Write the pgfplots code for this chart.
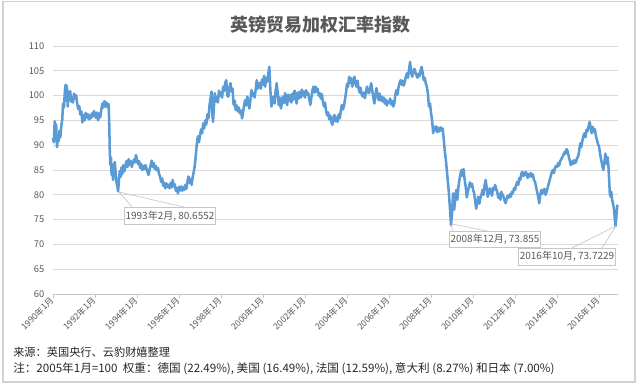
\documentclass[border=0pt]{standalone}
\usepackage{pgfplots}
\pgfplotsset{compat=1.18}
\usepackage{pgfplotstable}
\usepackage{fontspec}
\setmainfont{Noto Sans CJK SC}
\definecolor{linec}{RGB}{91,155,213}
\definecolor{gridc}{RGB}{217,217,217}
\definecolor{txtc}{RGB}{89,89,89}
\definecolor{framec}{RGB}{210,210,210}
\pgfplotstableread{
x y
1990.00 91.5
1990.04 90.6
1990.08 94.8
1990.11 92.0
1990.15 94.2
1990.19 89.6
1990.23 91.5
1990.27 90.8
1990.31 92.9
1990.35 91.6
1990.40 94.0
1990.44 95.2
1990.48 98.4
1990.52 97.6
1990.56 100.5
1990.60 102.2
1990.63 99.0
1990.66 102.0
1990.70 97.8
1990.74 100.8
1990.78 99.2
1990.82 100.9
1990.86 98.8
1990.90 99.6
1990.95 98.6
1991.00 100.4
1991.05 99.4
1991.10 100.1
1991.15 98.5
1991.20 97.3
1991.25 97.9
1991.30 96.2
1991.35 96.8
1991.40 94.6
1991.45 96.0
1991.50 95.0
1991.55 96.5
1991.60 95.6
1991.65 96.3
1991.70 95.2
1991.75 96.0
1991.80 95.4
1991.85 96.4
1991.90 95.8
1991.95 96.9
1992.00 96.0
1992.05 95.5
1992.10 96.6
1992.15 95.0
1992.20 96.4
1992.25 95.6
1992.30 97.2
1992.35 98.4
1992.40 97.6
1992.45 98.9
1992.50 97.8
1992.55 98.6
1992.60 97.6
1992.65 98.3
1992.68 94.0
1992.70 89.5
1992.73 86.0
1992.76 87.5
1992.79 84.0
1992.82 86.2
1992.86 83.0
1992.90 85.5
1992.94 86.6
1992.98 84.5
1993.02 82.6
1993.06 81.8
1993.10 80.7
1993.14 83.0
1993.18 84.8
1993.22 83.6
1993.26 85.5
1993.30 84.2
1993.35 86.0
1993.40 84.7
1993.45 85.8
1993.50 86.8
1993.55 85.6
1993.60 87.2
1993.65 86.1
1993.70 86.8
1993.75 85.6
1993.80 86.4
1993.85 87.1
1993.90 86.5
1993.95 88.0
1994.00 87.0
1994.05 86.2
1994.10 86.8
1994.15 85.4
1994.20 86.2
1994.25 85.0
1994.30 85.8
1994.35 85.2
1994.40 86.0
1994.45 85.3
1994.50 84.6
1994.55 84.0
1994.60 85.1
1994.65 86.0
1994.70 86.9
1994.75 85.6
1994.80 86.4
1994.85 85.2
1994.90 85.8
1994.95 84.9
1995.00 85.4
1995.05 84.2
1995.10 83.6
1995.15 82.6
1995.20 83.3
1995.25 81.8
1995.30 82.4
1995.35 81.3
1995.40 82.3
1995.45 81.6
1995.50 82.0
1995.55 81.3
1995.60 82.4
1995.65 81.5
1995.70 83.0
1995.75 81.7
1995.80 82.1
1995.85 80.8
1995.90 81.4
1995.95 80.3
1996.00 81.6
1996.05 80.9
1996.10 81.7
1996.15 80.8
1996.20 81.5
1996.25 81.0
1996.30 82.0
1996.35 81.2
1996.40 82.6
1996.45 83.7
1996.50 82.4
1996.55 83.2
1996.60 82.0
1996.65 83.5
1996.70 84.6
1996.75 85.8
1996.80 88.0
1996.85 90.4
1996.90 91.8
1996.95 90.6
1997.00 92.0
1997.05 93.2
1997.10 92.4
1997.15 94.4
1997.20 93.4
1997.25 95.0
1997.30 94.2
1997.35 96.2
1997.40 95.4
1997.45 98.0
1997.50 99.5
1997.55 100.8
1997.58 96.5
1997.62 94.7
1997.66 97.6
1997.70 100.5
1997.75 98.8
1997.80 99.8
1997.85 98.6
1997.90 101.0
1997.95 100.0
1998.00 100.6
1998.05 99.6
1998.10 101.8
1998.15 100.9
1998.20 102.6
1998.25 103.1
1998.30 100.0
1998.35 99.8
1998.40 101.6
1998.45 102.5
1998.50 100.8
1998.55 101.4
1998.60 98.1
1998.65 99.0
1998.70 97.1
1998.75 98.0
1998.80 96.8
1998.85 97.6
1998.90 96.4
1998.95 97.0
1999.00 95.4
1999.05 96.6
1999.10 98.2
1999.15 99.1
1999.20 98.0
1999.25 99.8
1999.30 98.6
1999.35 97.4
1999.40 99.2
1999.45 101.1
1999.50 100.0
1999.55 100.5
1999.60 99.6
1999.65 101.2
1999.70 103.1
1999.75 101.4
1999.80 101.8
1999.85 102.6
1999.90 101.4
1999.95 103.2
2000.00 102.2
2000.05 104.0
2000.10 101.8
2000.15 103.6
2000.20 102.8
2000.25 104.4
2000.30 105.8
2000.35 101.0
2000.40 97.8
2000.45 99.0
2000.50 99.8
2000.55 98.4
2000.60 101.0
2000.65 102.5
2000.70 100.4
2000.75 98.1
2000.80 99.6
2000.85 97.4
2000.90 98.6
2000.95 99.8
2001.00 98.5
2001.05 100.5
2001.10 99.0
2001.15 98.1
2001.20 100.2
2001.25 99.0
2001.30 100.1
2001.35 98.6
2001.40 100.4
2001.45 99.2
2001.50 101.0
2001.55 99.6
2001.60 98.4
2001.65 100.6
2001.70 99.4
2001.75 100.8
2001.80 99.6
2001.85 101.2
2001.90 100.0
2001.95 100.8
2002.00 99.6
2002.05 101.1
2002.10 100.2
2002.15 100.5
2002.20 99.4
2002.25 98.1
2002.30 99.6
2002.35 101.0
2002.40 101.8
2002.45 100.6
2002.50 101.8
2002.55 100.8
2002.60 101.4
2002.65 100.0
2002.70 100.5
2002.75 99.4
2002.80 100.3
2002.85 98.8
2002.90 97.8
2002.95 98.6
2003.00 97.0
2003.05 96.0
2003.10 96.6
2003.15 95.2
2003.20 96.0
2003.25 94.8
2003.30 94.1
2003.35 95.6
2003.40 96.1
2003.45 94.8
2003.50 95.6
2003.55 94.7
2003.60 96.2
2003.65 95.4
2003.70 96.8
2003.75 98.1
2003.80 97.2
2003.85 97.8
2003.90 99.2
2003.95 100.6
2004.00 102.4
2004.05 101.8
2004.10 103.8
2004.15 102.6
2004.20 103.5
2004.25 101.8
2004.30 103.0
2004.35 103.8
2004.40 102.6
2004.45 101.8
2004.50 103.0
2004.55 101.4
2004.60 100.6
2004.65 101.6
2004.70 100.2
2004.75 99.8
2004.80 100.6
2004.85 99.5
2004.90 100.8
2004.95 101.8
2005.00 100.6
2005.05 100.5
2005.10 101.5
2005.15 102.5
2005.20 101.0
2005.25 99.6
2005.30 98.4
2005.35 100.0
2005.40 101.5
2005.45 100.2
2005.50 99.1
2005.55 100.4
2005.60 99.0
2005.65 99.8
2005.70 98.8
2005.75 99.6
2005.80 98.4
2005.85 99.2
2005.90 98.0
2005.95 98.8
2006.00 98.6
2006.05 99.4
2006.10 98.2
2006.15 98.9
2006.20 97.8
2006.25 98.4
2006.30 100.2
2006.35 101.1
2006.40 100.2
2006.45 101.6
2006.50 102.6
2006.55 103.1
2006.60 102.2
2006.65 103.0
2006.70 102.0
2006.75 102.8
2006.80 103.8
2006.85 104.5
2006.90 103.6
2006.95 105.2
2007.00 106.8
2007.05 104.8
2007.10 103.8
2007.15 104.6
2007.20 105.4
2007.25 104.8
2007.30 104.2
2007.35 103.6
2007.40 104.4
2007.45 103.9
2007.50 105.0
2007.55 105.8
2007.60 104.6
2007.65 103.1
2007.70 103.6
2007.75 102.4
2007.80 101.8
2007.85 100.4
2007.90 97.8
2007.95 98.4
2008.00 96.4
2008.05 95.0
2008.10 92.4
2008.15 93.7
2008.20 93.0
2008.25 93.8
2008.30 92.6
2008.35 93.5
2008.40 92.8
2008.45 93.6
2008.50 93.0
2008.55 93.4
2008.60 91.4
2008.65 89.0
2008.70 87.2
2008.75 85.0
2008.80 82.6
2008.85 80.3
2008.90 77.2
2008.95 73.9
2009.00 76.5
2009.05 80.3
2009.10 77.0
2009.15 79.2
2009.20 81.0
2009.25 79.0
2009.30 81.5
2009.35 83.0
2009.40 84.2
2009.45 85.0
2009.50 83.8
2009.55 85.2
2009.60 83.0
2009.65 81.6
2009.70 79.5
2009.75 80.6
2009.80 81.5
2009.85 82.5
2009.90 81.7
2009.95 82.2
2010.00 81.0
2010.05 80.4
2010.10 78.6
2010.15 77.2
2010.20 78.6
2010.25 79.6
2010.30 78.2
2010.35 79.4
2010.40 80.0
2010.45 81.0
2010.50 80.0
2010.55 82.0
2010.60 83.0
2010.65 81.4
2010.70 79.6
2010.75 80.4
2010.80 81.3
2010.85 80.6
2010.90 79.8
2010.95 81.4
2011.00 81.0
2011.05 82.0
2011.10 81.2
2011.15 80.6
2011.20 79.4
2011.25 80.2
2011.30 79.0
2011.35 80.6
2011.40 80.0
2011.45 79.6
2011.50 78.8
2011.55 78.3
2011.60 79.2
2011.65 79.8
2011.70 79.4
2011.75 80.1
2011.80 79.6
2011.85 80.6
2011.90 80.4
2011.95 81.3
2012.00 81.0
2012.05 82.0
2012.10 82.6
2012.15 82.0
2012.20 83.4
2012.25 83.0
2012.30 84.3
2012.35 84.6
2012.40 83.8
2012.45 84.0
2012.50 84.6
2012.55 84.3
2012.60 83.4
2012.65 84.2
2012.70 83.7
2012.75 84.4
2012.80 83.6
2012.85 84.1
2012.90 83.0
2012.95 82.6
2013.00 81.6
2013.05 80.6
2013.10 79.6
2013.15 78.3
2013.20 80.0
2013.25 81.0
2013.30 80.2
2013.35 80.8
2013.40 81.2
2013.45 80.0
2013.50 80.6
2013.55 81.4
2013.60 82.2
2013.65 83.0
2013.70 83.8
2013.75 84.6
2013.80 85.0
2013.85 84.4
2013.90 85.4
2013.95 85.8
2014.00 85.6
2014.05 86.4
2014.10 85.9
2014.15 86.8
2014.20 87.2
2014.25 87.6
2014.30 88.0
2014.35 88.6
2014.40 88.3
2014.45 89.2
2014.50 88.8
2014.55 87.8
2014.60 87.0
2014.65 86.0
2014.70 86.7
2014.75 86.2
2014.80 87.0
2014.85 86.4
2014.90 86.6
2014.95 87.4
2015.00 87.7
2015.05 88.8
2015.10 90.4
2015.15 89.6
2015.20 90.8
2015.25 91.8
2015.30 92.4
2015.35 91.6
2015.40 93.1
2015.45 92.8
2015.50 93.8
2015.55 94.7
2015.60 93.6
2015.65 92.4
2015.70 93.7
2015.75 92.8
2015.80 93.2
2015.85 91.8
2015.90 91.0
2015.95 90.2
2016.00 89.7
2016.05 88.2
2016.10 87.0
2016.15 86.0
2016.20 85.0
2016.25 86.5
2016.30 88.3
2016.33 87.0
2016.37 86.2
2016.41 87.6
2016.45 85.4
2016.48 83.0
2016.51 80.3
2016.55 79.6
2016.58 80.6
2016.62 79.0
2016.66 78.3
2016.70 77.4
2016.74 75.6
2016.78 73.7
2016.81 75.0
2016.84 76.6
2016.87 78.0
}\gbp
\begin{document}
\begin{tikzpicture}
\begin{scope}[x=0.75pt,y=0.75pt]
\useasboundingbox (0,0) rectangle (640,384);
\draw[framec, line width=0.8pt] (3,2) rectangle (635,382.5);
\node[font=\fontsize{13.5}{15}\selectfont\bfseries, text=txtc] at (320,359) {英镑贸易加权汇率指数};
\end{scope}
\begin{axis}[
  at={(39.75pt,67.5pt)}, anchor=south west,
  scale only axis, width=423.75pt, height=186pt,
  xmin=1990, xmax=2016.9, ymin=60, ymax=110,
  ytick={60,65,...,110},
  xtick={1990,1992,...,2016},
  xticklabels={1990年1月,1992年1月,1994年1月,1996年1月,1998年1月,2000年1月,2002年1月,2004年1月,2006年1月,2008年1月,2010年1月,2012年1月,2014年1月,2016年1月},
  axis x line*=bottom, axis y line*=left,
  x axis line style={draw=gridc!80!gray, -},
  y axis line style={draw=none},
  ymajorgrids, grid style={gridc, line width=0.7pt},
  tick align=outside, major tick length=3pt,
  xtick style={draw=gridc!80!gray},
  ytick style={draw=none},
  /pgf/number format/assume math mode=true,
  yticklabel style={font=\fontsize{7}{8}\selectfont, text=txtc},
  xticklabel style={font=\fontsize{6.5}{7}\selectfont, text=txtc, rotate=45, anchor=east, inner sep=1pt},
  clip=false,
]
\addplot[color=linec, line width=1.9pt, line join=round] table[x=x,y=y] {\gbp};
\end{axis}
\begin{scope}[x=0.75pt,y=0.75pt]
% callouts
\draw[gray!45, line width=0.5pt] (119,192) -- (133,176) (119,192) -- (188,176);
\node[draw=gray!45, fill=white, text=txtc, font=\fontsize{7.5}{8}\selectfont, minimum width=67.5pt, minimum height=12.5pt, inner sep=1pt] at (170,168) {1993年2月, 80.6552};
\draw[gray!45, line width=0.5pt] (452,160) -- (452,152) (452,160) -- (492,152);
\node[draw=gray!45, fill=white, text=txtc, font=\fontsize{7.5}{8}\selectfont, minimum width=67.5pt, minimum height=12pt, inner sep=1pt] at (495,144.5) {2008年12月, 73.855};
\draw[gray!45, line width=0.5pt] (616,158) -- (572,136) (616,158) -- (602,136);
\node[draw=gray!45, fill=white, text=txtc, font=\fontsize{7.5}{8}\selectfont, minimum width=71pt, minimum height=12.5pt, inner sep=1pt] at (567,127.5) {2016年10月, 73.7229};
% footer
\node[anchor=west, font=\fontsize{8.4}{9}\selectfont, text=black!85, inner sep=0] at (13,32) {来源：英国央行、云豹财嬉整理};
\node[anchor=west, font=\fontsize{8.7}{9}\selectfont, text=black!85, inner sep=0] at (13,15) {注：2005年1月=100\ \ 权重：德国 (22.49\%), 美国 (16.49\%), 法国 (12.59\%), 意大利 (8.27\%) 和日本 (7.00\%)};
\end{scope}
\end{tikzpicture}
\end{document}
